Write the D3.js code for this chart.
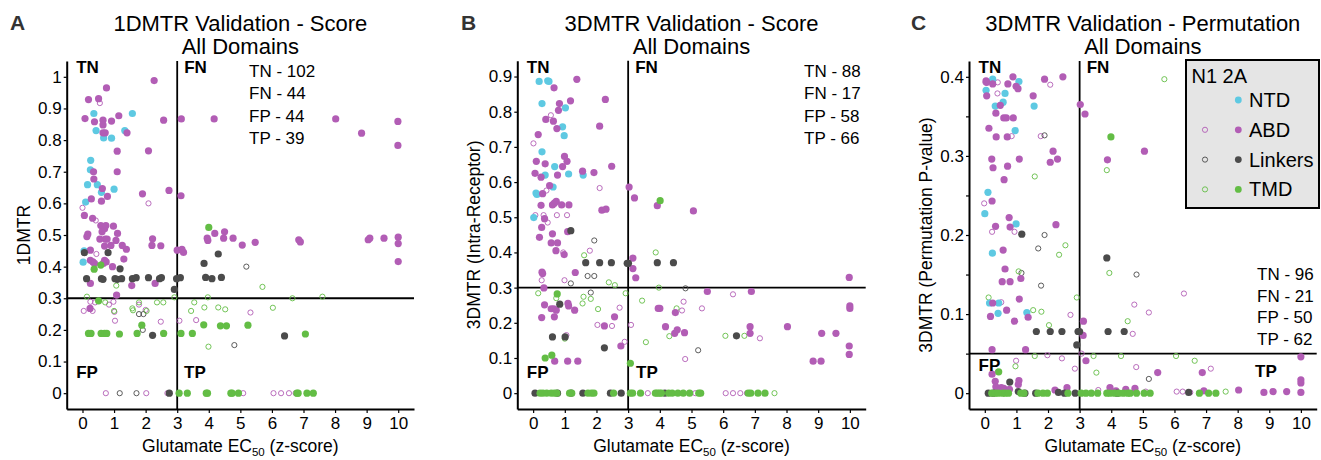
<!DOCTYPE html>
<html>
<head>
<meta charset="utf-8">
<script src="https://d3js.org/d3.v7.min.js"></script>
<style>
  body { margin: 0; background: #fff; }
  text { font-family: "Liberation Sans", Arial, Helvetica, sans-serif; }
</style>
</head>
<body>
<svg id="chart" width="1321" height="460"></svg>
<script>
// domain colours
var colNTD = "#5ec9e2", colABD = "#b25db5", colLink = "#4b4b4b", colTMD = "#63bd45";

var xTicks = [0, 1, 2, 3, 4, 5, 6, 7, 8, 9, 10];
var aYTicks = [0, 0.1, 0.2, 0.3, 0.4, 0.5, 0.6, 0.7, 0.8, 0.9, 1];
var bYTicks = [0, 0.1, 0.2, 0.3, 0.4, 0.5, 0.6, 0.7, 0.8, 0.9];
var cYTicks = [0, 0.1, 0.2, 0.3, 0.4];
var cYMinor = [0.05, 0.15, 0.25, 0.35];

var legendNames = ["NTD", "ABD", "Linkers", "TMD"];

// ---------- panel A : 1DMTR score ----------
var aNTD = [[0.36,0.884],[1.58,0.884],[0.43,0.83],[1.34,0.83],[0.67,0.807],[0.92,0.806],[0.26,0.736],[0.25,0.706],
  [0.47,0.659],[0.16,0.659],[0.60,0.635],[1.0,0.645],[0.10,0.604],[0.02,0.414],[0.05,0.45]];
var aABD2A = [[2.27,0.988],[0.76,0.965],[0.19,0.928],[0.51,0.931],[0.08,0.868],[0.38,0.858],[0.65,0.863],[0.65,0.848],
  [0.92,0.86],[1.15,0.877],[2.57,0.863],[3.13,0.867],[4.17,0.867],[8.02,0.867],[8.84,0.822],[9.99,0.859],[9.99,0.783],
  [0.65,0.823],[0.72,0.823],[1.41,0.823],[1.10,0.765],[2.09,0.766],[1.10,0.70],[0.35,0.70],[0.36,0.677],[0.63,0.647],
  [0.79,0.622],[0.28,0.614],[0.60,0.607],[1.90,0.63],[2.74,0.641],[3.12,0.624],[0.06,0.562],[0.32,0.553],
  [0.58,0.53],[0.65,0.52],[0.62,0.51],[0.70,0.52],[0.74,0.53],[0.98,0.528],[1.11,0.505],[0.14,0.495],[0.17,0.503],
  [0.55,0.487],[0.72,0.487],[0.78,0.487],[0.90,0.467],[0.70,0.465],[1.06,0.483],[1.26,0.467],[1.39,0.455],[2.22,0.488],
  [2.2,0.467],[2.48,0.466],[3.0,0.452],[3.15,0.455],[3.2,0.445],[0.25,0.452],[0.25,0.42],[0.33,0.415],[0.38,0.41],
  [0.70,0.42],[0.75,0.415],[0.66,0.41],[0.95,0.40],[1.31,0.424],[0.25,0.347],[1.56,0.34],[2.30,0.347],[1.08,0.31],
  [0.24,0.268],[3.95,0.49],[3.97,0.483],[4.19,0.505],[4.47,0.49],[4.5,0.51],[4.77,0.49],[5.06,0.468],[5.47,0.477],
  [6.85,0.485],[6.9,0.478],[9.05,0.485],[9.1,0.49],[9.55,0.49],[10,0.493],[10,0.473],[10,0.416]];
var aABDN1 = [[0.55,0.917],[0.0,0.586],[2.09,0.60],[0.42,0.546],[0.44,0.44],[0.04,0.26],[0.32,0.26],[0.4,0.287],
  [0.84,0.28],[0.98,0.289],[1.03,0.229],[1.01,0.257],[1.79,0.28],[2.0,0.263],[2.48,0.226],[3.07,0.229],[3.6,0.231],
  [5.32,0.255],[0.25,0.289],[0.74,0],[2.02,0],[2.69,0],[5.09,0],[6.05,0],[6.29,0],[6.54,0],[6.75,0]];
var aLinkN1 = [[1.79,0.25],[1.93,0.25],[1.91,0.2],[4.81,0.152],[5.19,0.40],[1.18,0],[1.71,0]];
var aLink2A = [[0.06,0.444],[0.81,0.444],[1.19,0.393],[0.13,0.362],[0.6,0.362],[0.65,0.36],[1.03,0.362],[1.1,0.36],
  [1.24,0.362],[1.58,0.362],[1.7,0.365],[2.09,0.365],[2.44,0.362],[2.5,0.365],[2.98,0.362],[3.1,0.365],[3.9,0.366],
  [4.1,0.362],[4.4,0.366],[3.85,0.41],[4.3,0.44],[2.91,0.328],[2.22,0.183],[6.4,0.181],[2.75,0]];
var aTMDN1 = [[0.14,0.305],[1.09,0.31],[3.97,0.303],[5.7,0.336],[6.65,0.30],[7.6,0.305],[0.72,0.287],[1.79,0.287],
  [2.36,0.287],[2.56,0.287],[2.91,0.303],[1.0,0.26],[1.58,0.268],[1.6,0.262],[2.03,0.26],[3.54,0.287],[3.44,0.26],
  [3.86,0.271],[4.3,0.271],[4.52,0.265],[6.03,0.27],[3.99,0.147],[1.07,0.34]];
var aTMD2A = [[0.37,0.392],[0.58,0.405],[0.51,0.292],[0.19,0.189],[0.27,0.189],[0.59,0.189],[0.70,0.189],[0.77,0.189],
  [1.17,0.187],[1.73,0.189],[1.88,0.215],[2.57,0.189],[3.12,0.189],[3.48,0.189],[3.84,0.216],[4.37,0.213],[4.56,0.213],
  [5.24,0.215],[7.06,0.187],[4.0,0.524],[3.06,0],[3.32,0],[3.92,0],[3.96,0],[4.7,0],[4.74,0],[4.94,0],[6.79,0],
  [6.83,0],[7.11,0],[7.31,0]];
var aCounts = ["TN - 102", "FN - 44", "FP - 44", "TP - 39"];

// ---------- panel B : 3DMTR score ----------
var bNTD = [[0.19,0.886],[0.46,0.888],[0.5,0.886],[0.28,0.823],[1.02,0.811],[0.93,0.757],[0.98,0.732],[0.28,0.686],
  [0.68,0.644],[1.12,0.623],[1.58,0.62],[0.38,0.62],[0.09,0.569],[0.12,0.565],[0.63,0.586],[0.02,0.499]];
var bABD2A = [[1.38,0.892],[0.66,0.868],[2.28,0.835],[1.18,0.831],[0.83,0.823],[0.8,0.804],[0.4,0.778],[0.64,0.773],
  [0.75,0.752],[2.1,0.759],[0.16,0.735],[0.99,0.673],[1.07,0.659],[0.1,0.659],[0.38,0.652],[0.93,0.644],[2.48,0.645],
  [1.56,0.631],[1.92,0.627],[0.06,0.625],[0.77,0.62],[0.25,0.614],[0.52,0.59],[0.3,0.567],[3.03,0.586],[3.2,0.555],
  [0.25,0.534],[0.61,0.535],[0.67,0.54],[0.73,0.545],[0.9,0.535],[1.13,0.535],[2.17,0.52],[2.3,0.523],[0.36,0.496],
  [0.27,0.471],[1.09,0.459],[0.61,0.453],[0.2,0.443],[0.77,0.427],[0.57,0.427],[0.72,0.405],[0.98,0.394],[0.28,0.344],
  [0.3,0.34],[1.33,0.343],[3.15,0.384],[3.15,0.354],[3.24,0.328],[0.34,0.299],[3.92,0.533],[5.06,0.518],
  [9.98,0.329],[5.5,0.289],[6.89,0.289],[4.49,0.229],[3.95,0.241],[4.0,0.241],[10,0.248],[10,0.241],[0.36,0.251],
  [0.57,0.24],[0.65,0.24],[0.73,0.236],[1.1,0.255],[1.12,0.248],[1.31,0.236],[0.27,0.215],[0.67,0.217],[2.57,0.217],
  [2.25,0.191],[4.18,0.189],[4.47,0.17],[4.55,0.18],[4.78,0.172],[6.85,0.189],[6.85,0.17],[8.03,0.189],[9.11,0.17],
  [9.56,0.17],[9.98,0.134],[9.98,0.11],[2.77,0.134],[0.68,0.091],[1.09,0.091],[1.41,0.091],[8.84,0.091],[9.09,0.091]];
var bABDN1 = [[0.56,0.79],[0.01,0.71],[2.1,0.583],[0.42,0.576],[0.07,0.506],[0.33,0.506],[0.75,0.506],[1.07,0.506],
  [0.46,0.485],[1.79,0.405],[0.95,0.40],[0.27,0.321],[0.99,0.321],[6.31,0.281],[4.75,0.26],[4.7,0.235],[5.33,0.241],
  [2.73,0.243],[2.03,0.194],[2.49,0.191],[3.09,0.194],[1.05,0.165],[7.16,0.156],[2.89,0.146],[4.8,0.097],[3.62,0],
  [5.12,0],[6.08,0],[6.31,0],[6.54,0],[6.75,0]];
var bLinkN1 = [[1.93,0.434],[1.72,0.333],[1.93,0.333],[1.19,0.312],[4.81,0.298],[1.82,0.286],[5.21,0.122]];
var bLink2A = [[1.19,0.462],[1.66,0.371],[2.1,0.371],[2.47,0.371],[2.97,0.369],[3.01,0.369],[3.92,0.371],[4.43,0.371],
  [0.84,0.253],[0.61,0.16],[1.01,0.16],[6.42,0.163],[2.25,0.129],[0.06,0],[0.77,0],[1.2,0],[1.57,0],[2.44,0],
  [2.78,0],[4.16,0]];
var bTMDN1 = [[1.61,0.392],[3.87,0.40],[2.39,0.315],[2.58,0.307],[0.16,0.284],[3.97,0.3],[0.73,0.27],[1.59,0.274],
  [1.56,0.255],[1.82,0.268],[2.92,0.284],[3.44,0.263],[4.53,0.241],[2.05,0.239],[1.0,0.155],[3.56,0.145],[6.07,0.163],
  [6.67,0.163],[4.3,0.162],[7.62,0]];
var bTMD2A = [[4.01,0.547],[0.76,0.282],[0.38,0.10],[0.59,0.108],[3.07,0.085],[0.22,0],[0.31,0],[0.43,0],[0.57,0],
  [0.67,0],[0.75,0],[1.15,0],[1.22,0],[1.73,0],[1.84,0],[1.92,0],[2.54,0],[3.07,0],[3.14,0],[3.39,0],[3.86,0],[3.92,0],
  [3.99,0],[4.05,0],[4.28,0],[4.39,0],[4.57,0],[4.74,0],[4.94,0],[5.23,0],[5.29,0],[6.79,0],[6.87,0],[7.1,0],[7.32,0]];
var bCounts = ["TN - 88", "FN - 17", "FP - 58", "TP - 66"];

// ---------- panel C : 3DMTR permutation ----------
var cNTD = [[0.25,0.397],[1.08,0.394],[0.04,0.383],[0.64,0.379],[0.58,0.368],[0.33,0.363],[1.56,0.363],[0.96,0.332],
  [0.1,0.254],[0.0,0.227],[0.99,0.214],[0.24,0.177],[0.15,0.114],[0.44,0.114],[0.42,0.101],[1.33,0.102]];
var cABD2A = [[0.89,0.4],[2.47,0.4],[1.89,0.397],[0.04,0.395],[0.06,0.393],[0.25,0.391],[0.73,0.391],[0.99,0.388],
  [1.05,0.385],[0.06,0.376],[1.53,0.376],[0.49,0.364],[3.02,0.365],[3.17,0.353],[0.35,0.354],[0.6,0.348],[0.68,0.348],
  [0.9,0.348],[0.13,0.335],[0.36,0.324],[0.71,0.324],[2.16,0.306],[0.22,0.296],[1.09,0.296],[2.3,0.296],[2.07,0.292],
  [0.26,0.285],[0.72,0.287],[0.61,0.27],[0.23,0.243],[2.25,0.213],[0.77,0.222],[0.34,0.211],[0.8,0.21],[0.58,0.181],
  [0.64,0.157],[0.55,0.141],[0.8,0.141],[1.14,0.145],[1.09,0.119],[0.25,0.114],[0.69,0.105],[0.18,0.097],[1.37,0.096],
  [0.94,0.091],[3.12,0.091],[3.11,0.073],[0.23,0.055],[1.29,0.055],[3.88,0.295],[5.05,0.306],[3.2,0.041],[10,0.046],
  [5.47,0.026],[6.88,0.026],[0.23,0.024],[0.33,0.015],[1.08,0.016],[1.06,0.011],[10,0.017],[10,0.013],[10,0.001],
  [0.35,0.008],[0.52,0.007],[0.6,0.006],[0.78,0.005],[2.22,0.004],[2.6,0.007],[3.96,0.007],[4.15,0.003],[4.46,0.005],
  [4.75,0.006],[6.93,0.003],[8.03,0.004],[8.83,0.001],[9.12,0.002],[9.55,0.002]];
var cABDN1 = [[0.02,0.393],[0.41,0.393],[0.4,0.379],[2.07,0.39],[0.85,0.325],[1.77,0.325],[-0.02,0.24],[0.23,0.204],
  [0.94,0.204],[0.52,0.115],[2.71,0.099],[6.3,0.126],[4.73,0.112],[5.19,0.102],[4.68,0.075],[3.06,0.05],[1.98,0.048],
  [2.44,0.044],[0.99,0.041],[2.85,0.031],[4.79,0.033],[7.15,0.031],[0.41,0.027],[3.59,0.004],[5.09,0.002],[6.07,0.002],
  [6.26,0.002],[6.5,0.001]];
var cLinkN1 = [[1.89,0.326],[1.89,0.2],[1.69,0.183],[1.16,0.152],[1.78,0.136],[4.8,0.15],[5.19,0.018]];
var cLink2A = [[1.17,0.201],[1.63,0.078],[2.07,0.078],[2.44,0.078],[2.95,0.078],[3.0,0.078],[3.9,0.078],[4.41,0.078],
  [2.91,0.061],[3.86,0.171],[0.79,0.014],[0.11,0],[0.27,0],[1.06,0.002],[1.27,0],[1.61,0],[2.33,0.001],[2.52,0],
  [2.86,0],[4.19,0],[6.45,0.001]];
var cTMDN1 = [[5.68,0.397],[3.86,0.282],[1.58,0.274],[2.55,0.187],[2.35,0.175],[1.07,0.154],[3.94,0.152],[0.12,0.121],
  [2.91,0.121],[1.53,0.105],[1.79,0.103],[0.7,0.105],[2.03,0.086],[4.52,0.091],[1.58,0.047],[3.44,0.047],[4.31,0.047],
  [6.05,0.047],[6.64,0.041],[0.97,0.034],[3.53,0.026],[7.62,0.002]];
var cTMD2A = [[3.99,0.324],[0.44,0.027],[0.22,0],[0.33,0],[0.43,0],[0.56,0],[0.64,0],[0.75,0],[1.14,0],[1.24,0],
  [1.68,0],[1.84,0],[1.98,0],[2.63,0],[3.05,0],[3.2,0],[3.37,0],[3.57,0],[3.86,0],[3.96,0],[4.1,0],[4.24,0],[4.38,0],
  [4.52,0],[4.6,0],[4.8,0],[5.04,0],[5.23,0],[6.79,0],[7.08,0],[7.31,0]];
var cCounts = ["TN - 96", "FN - 21", "FP - 50", "TP - 62"];

var svg = d3.select("#chart");

function seriesList(ntd, abdN1, abd2A, linkN1, link2A, tmdN1, tmd2A) {
  return [
    { data: abdN1, color: colABD, open: true },
    { data: linkN1, color: colLink, open: true },
    { data: tmdN1, color: colTMD, open: true },
    { data: ntd, color: colNTD, open: false },
    { data: abd2A, color: colABD, open: false },
    { data: link2A, color: colLink, open: false },
    { data: tmd2A, color: colTMD, open: false }
  ];
}

var panels = [
  { letter: "A", letterX: 10, left: 66.7, right: 414, top: 61, bottom: 409,
    yDomain: [-0.05, 1.05], yTicks: aYTicks, yMinor: [], thresh: 0.3,
    title: "1DMTR Validation - Score", yLabel: "1DMTR", yLabelX: 24,
    counts: aCounts, countX: 249, countY: 77, countDy: 22.4,
    fpY: 378, tpX: 184, tpY: 378,
    series: seriesList(aNTD, aABDN1, aABD2A, aLinkN1, aLink2A, aTMDN1, aTMD2A) },
  { letter: "B", letterX: 461, left: 517.3, right: 865.7, top: 60.7, bottom: 409,
    yDomain: [-0.045, 0.945], yTicks: bYTicks, yMinor: [], thresh: 0.3,
    title: "3DMTR Validation - Score", yLabel: "3DMTR (Intra-Receptor)", yLabelX: 474,
    counts: bCounts, countX: 804, countY: 77, countDy: 22.4,
    fpY: 378, tpX: 636, tpY: 378,
    series: seriesList(bNTD, bABDN1, bABD2A, bLinkN1, bLink2A, bTMDN1, bTMD2A) },
  { letter: "C", letterX: 911, left: 969, right: 1316.7, top: 61, bottom: 409,
    yDomain: [-0.02, 0.42], yTicks: cYTicks, yMinor: cYMinor, thresh: 0.05,
    title: "3DMTR Validation - Permutation", yLabel: "3DMTR (Permutation P-value)", yLabelX: 926,
    counts: cCounts, countX: 1257, countY: 280, countDy: 21.7,
    fpY: 370.7, tpX: 1255, tpY: 376.7,
    series: seriesList(cNTD, cABDN1, cABD2A, cLinkN1, cLink2A, cTMDN1, cTMD2A) }
];

function styleAxis(sel) {
  sel.select(".domain").attr("stroke", "#000").attr("stroke-width", 2);
  sel.selectAll(".tick line").attr("stroke", "#000").attr("stroke-width", 1.2);
  sel.selectAll(".tick text").attr("font-size", 17).attr("fill", "#000")
    .attr("font-family", "Liberation Sans, Arial, sans-serif");
}

panels.forEach(function(p) {
  var x = d3.scaleLinear().domain([-0.5, 10.5]).range([p.left, p.right]);
  var y = d3.scaleLinear().domain(p.yDomain).range([p.bottom, p.top]);
  var g = svg.append("g");
  var cx = (p.left + p.right) / 2;

  // panel letter + two line title
  g.append("text").attr("x", p.letterX).attr("y", 30).attr("font-size", 21)
    .attr("font-weight", "bold").attr("fill", "#333").text(p.letter);
  g.append("text").attr("x", cx).attr("y", 30.5).attr("text-anchor", "middle")
    .attr("font-size", 22).text(p.title);
  g.append("text").attr("x", cx).attr("y", 53.5).attr("text-anchor", "middle")
    .attr("font-size", 22).text("All Domains");

  // threshold lines
  g.append("line").attr("x1", x(3)).attr("x2", x(3)).attr("y1", p.top).attr("y2", p.bottom)
    .attr("stroke", "#000").attr("stroke-width", 1.8);
  g.append("line").attr("x1", p.left).attr("x2", p.right).attr("y1", y(p.thresh)).attr("y2", y(p.thresh))
    .attr("stroke", "#000").attr("stroke-width", 1.8);

  // points
  p.series.forEach(function(s) {
    var c = g.selectAll(null).data(s.data).enter().append("circle")
      .attr("cx", d => x(d[0]))
      .attr("cy", d => y(d[1]));
    if (s.open) {
      c.attr("r", 2.6).attr("fill", "none").attr("stroke", s.color).attr("stroke-width", 0.9);
    } else {
      c.attr("r", 3.6).attr("fill", s.color);
    }
  });

  // axes
  var xAxis = g.append("g").attr("transform", `translate(0,${p.bottom})`)
    .call(d3.axisBottom(x).tickValues(xTicks).tickSize(4).tickSizeOuter(0).tickPadding(4).tickFormat(d3.format("d")));
  styleAxis(xAxis);
  var yAxis = g.append("g").attr("transform", `translate(${p.left},0)`)
    .call(d3.axisLeft(y).tickValues(p.yTicks).tickSize(3).tickSizeOuter(0).tickPadding(2)
      .tickFormat(d => String(+d.toFixed(2))));
  styleAxis(yAxis);
  if (p.yMinor.length) {
    var minor = g.append("g").attr("transform", `translate(${p.left},0)`)
      .call(d3.axisLeft(y).tickValues(p.yMinor).tickSize(3).tickFormat(""));
    minor.select(".domain").remove();
    minor.selectAll(".tick line").attr("stroke", "#000").attr("stroke-width", 1.2);
  }

  // axis titles
  var xt = g.append("text").attr("x", cx).attr("y", 452).attr("text-anchor", "middle").attr("font-size", 17.5);
  xt.append("tspan").text("Glutamate EC");
  xt.append("tspan").attr("font-size", 11.5).attr("dy", 4).text("50");
  xt.append("tspan").attr("dy", -4).text(" (z-score)");
  g.append("text").attr("transform", `translate(${p.yLabelX},${(p.top + p.bottom) / 2}) rotate(-90)`)
    .attr("text-anchor", "middle").attr("dy", "0.35em").attr("font-size", 17.5).text(p.yLabel);

  // quadrant labels
  var qx = p.left + 9.5;
  g.append("text").attr("x", qx).attr("y", 72.7).attr("font-size", 17).attr("font-weight", "bold").text("TN");
  g.append("text").attr("x", x(3) + 7).attr("y", 72.7).attr("font-size", 17).attr("font-weight", "bold").text("FN");
  g.append("text").attr("x", qx).attr("y", p.fpY).attr("font-size", 17).attr("font-weight", "bold").text("FP");
  g.append("text").attr("x", p.tpX).attr("y", p.tpY).attr("font-size", 17).attr("font-weight", "bold").text("TP");

  // counts
  g.selectAll(null).data(p.counts).enter().append("text")
    .attr("x", p.countX).attr("y", (d, i) => p.countY + i * p.countDy)
    .attr("font-size", 17).text(d => d);
});

// legend on panel C
var lg = svg.append("g");
lg.append("rect").attr("x", 1186).attr("y", 60).attr("width", 133).attr("height", 148)
  .attr("fill", "#e5e5e5").attr("stroke", "#000").attr("stroke-width", 2);
lg.append("text").attr("x", 1191.5).attr("y", 82.7).attr("font-size", 20).text("N1 2A");
var legendCols = [colNTD, colABD, colLink, colTMD];
legendNames.forEach(function(name, i) {
  var ly = 100 + i * 29.8;
  if (i > 0) {
    lg.append("circle").attr("cx", 1205).attr("cy", ly).attr("r", 2.6).attr("fill", "none")
      .attr("stroke", legendCols[i]).attr("stroke-width", 0.9);
  }
  lg.append("circle").attr("cx", 1238.3).attr("cy", ly).attr("r", 3.4).attr("fill", legendCols[i]);
  lg.append("text").attr("x", 1249).attr("y", ly + 7).attr("font-size", 20).text(name);
});
</script>
</body>
</html>
